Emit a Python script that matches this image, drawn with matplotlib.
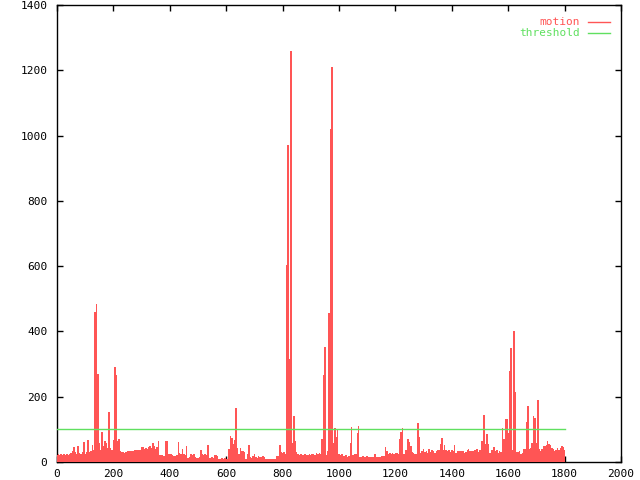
import matplotlib
matplotlib.use("Agg")
import matplotlib.pyplot as plt
import numpy as np

motion_0000 = [22, 25, 20, 24, 22, 26, 20, 23, 22, 24, 28, 33, 45, 30, 25, 48, 28, 26, 30, 62]
motion_0100 = [25, 30, 68, 30, 35, 53, 38, 460, 485, 270, 58, 36, 93, 48, 63, 58, 42, 153, 43, 38]
motion_0200 = [68, 290, 265, 63, 70, 33, 30, 30, 28, 30, 33, 35, 33, 35, 33, 36, 36, 38, 36, 38]
motion_0300 = [46, 47, 40, 42, 40, 45, 48, 42, 58, 50, 40, 45, 63, 22, 20, 20, 18, 63, 63, 25]
motion_0400 = [26, 25, 22, 18, 18, 20, 60, 28, 26, 40, 25, 22, 48, 13, 15, 23, 22, 23, 14, 13]
motion_0500 = [13, 15, 36, 23, 22, 23, 20, 53, 13, 13, 14, 12, 20, 20, 18, 10, 10, 12, 10, 12]
motion_0600 = [10, 10, 40, 80, 73, 56, 68, 166, 43, 23, 43, 33, 33, 30, 8, 23, 53, 15, 13, 18]
motion_0700 = [25, 15, 13, 18, 16, 16, 18, 14, 10, 8, 8, 8, 8, 8, 8, 10, 18, 18, 53, 30]
motion_0800 = [28, 30, 26, 603, 971, 315, 1259, 58, 141, 63, 30, 23, 22, 23, 20, 22, 23, 20, 22, 23]
motion_0900 = [22, 25, 23, 22, 28, 26, 28, 24, 70, 266, 353, 21, 33, 456, 1020, 1209, 58, 105, 77, 99]
motion_1000 = [23, 20, 25, 18, 18, 20, 16, 18, 58, 108, 21, 23, 25, 88, 110, 16, 16, 18, 15, 16]
motion_1100 = [18, 15, 15, 16, 15, 23, 26, 16, 16, 16, 18, 18, 18, 46, 33, 26, 28, 26, 28, 26]
motion_1200 = [28, 28, 26, 70, 91, 103, 26, 38, 38, 70, 60, 48, 30, 28, 26, 26, 121, 76, 28, 33]
motion_1300 = [40, 30, 33, 28, 40, 30, 36, 33, 28, 33, 36, 36, 56, 75, 36, 53, 36, 33, 38, 30]
motion_1400 = [36, 33, 53, 28, 33, 33, 35, 33, 33, 28, 31, 36, 40, 33, 33, 33, 36, 36, 40, 30]
motion_1500 = [38, 63, 63, 143, 56, 86, 56, 28, 36, 36, 46, 33, 36, 28, 33, 30, 103, 70, 131, 131]
motion_1600 = [88, 280, 350, 38, 400, 215, 30, 30, 33, 26, 28, 40, 40, 123, 173, 40, 43, 58, 140, 136]
motion_1700 = [58, 190, 40, 33, 40, 48, 48, 53, 63, 56, 53, 43, 40, 33, 38, 43, 36, 43, 48, 46, 38]

motion = (motion_0000 + motion_0100 + motion_0200 + motion_0300 + motion_0400 +
          motion_0500 + motion_0600 + motion_0700 + motion_0800 + motion_0900 +
          motion_1000 + motion_1100 + motion_1200 + motion_1300 + motion_1400 +
          motion_1500 + motion_1600 + motion_1700)
frame_step = 5
frames = [i * frame_step for i in range(len(motion))]

threshold_x = [0, 1800]
threshold_y = [100, 100]

x_ticks = [0, 200, 400, 600, 800, 1000, 1200, 1400, 1600, 1800, 2000]
y_ticks = [0, 200, 400, 600, 800, 1000, 1200, 1400]

RED = "#ff5555"
GREEN = "#60e060"
FONT = "DejaVu Sans Mono"

fig = plt.figure(figsize=(6.4, 4.8), dpi=100)
ax = fig.add_axes([57 / 640, 1 - 462 / 480, (621 - 57) / 640, (462 - 5) / 480])

ax.bar(frames, motion, width=frame_step * 1.05, color=RED, linewidth=0,
       zorder=3, antialiased=False)
ax.plot(threshold_x, threshold_y, color=GREEN, lw=1.0, zorder=4)

ax.set_xlim(0, 2000)
ax.set_ylim(0, 1400)
ax.set_xticks(x_ticks)
ax.set_yticks(y_ticks)
ax.set_xticklabels([str(t) for t in x_ticks], fontfamily=FONT, fontsize=8)
ax.set_yticklabels([str(t) for t in y_ticks], fontfamily=FONT, fontsize=8)
ax.tick_params(direction="in", length=4, width=1, top=True, right=True,
               color="black")
ax.tick_params(axis="x", pad=5)
ax.tick_params(axis="y", pad=7)
ax.set_axisbelow(True)
for s in ax.spines.values():
    s.set_linewidth(1)
    s.set_color("black")
    s.set_zorder(2.5)

# gnuplot-style key at top right
key_entries = [("motion", RED), ("threshold", GREEN)]
for i, (label, col) in enumerate(key_entries):
    y_pix = 22 + i * 11
    y_ax = (462 - y_pix) / (462 - 5)
    x_txt = (580 - 57) / (621 - 57)
    ax.text(x_txt, y_ax, label, transform=ax.transAxes, ha="right", va="center",
            color=col, fontfamily=FONT, fontsize=8)
    ax.plot([(588 - 57) / 564, (610 - 57) / 564], [y_ax, y_ax],
            transform=ax.transAxes, color=col, lw=1, clip_on=False)

fig.savefig("out.png", dpi=100)
